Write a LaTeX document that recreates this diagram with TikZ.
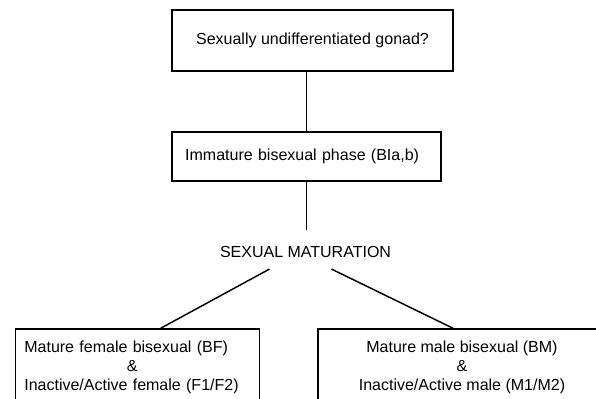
\documentclass[tikz,border=0pt]{standalone}
\usepackage{fontspec}
\setmainfont{Liberation Sans}

\begin{document}
\begin{tikzpicture}[x=0.75pt, y=-0.75pt, line width=1.1pt,
    font=\fontsize{12}{14.4}\selectfont,
    stagebox/.style={draw, rectangle, inner sep=0pt, align=center},
    link/.style={line width=1.1pt}]

\useasboundingbox (0,0) rectangle (596,399);
\clip (0,0) rectangle (596,399);

% top: undifferentiated stage
\node[stagebox, minimum width=210.75pt, minimum height=45.75pt] (gonad) at (312.5,40.5) {Sexually undifferentiated gonad?};

% immature stage
\node[stagebox, minimum width=201.75pt, minimum height=36.75pt, text width=182pt, align=left] (immature) at (306.5,156.5) {Immature bisexual phase (BIa,b)};

% maturation label
\node[inner sep=0pt] (matur) at (305.5,252) {SEXUAL MATURATION};

% mature stages (cut off at the bottom / right)
\node[stagebox, minimum width=183pt, minimum height=57.75pt, text width=170pt, align=left, xshift=2pt] (female) at (135,367.5) {Mature female bisexual (BF)\\ \makebox[162pt]{\&}\\ Inactive/Active female (F1/F2)};
\node[stagebox, minimum width=216pt, minimum height=57.75pt] (male) at (462,367.5) {Mature male bisexual (BM)\\ \&\\ Inactive/Active male (M1/M2)};

% links
\draw[link] (gonad.south -| immature.north) -- (immature.north);
\draw[link] (immature.south) -- ([yshift=12pt]matur.north -| immature.south);
\draw[link] ([xshift=-27pt, yshift=-8pt]matur.south) -- ([xshift=17.25pt]female.north);
\draw[link] ([xshift=19.5pt, yshift=-8pt]matur.south) -- ([xshift=-6.75pt]male.north);

\end{tikzpicture}
\end{document}
